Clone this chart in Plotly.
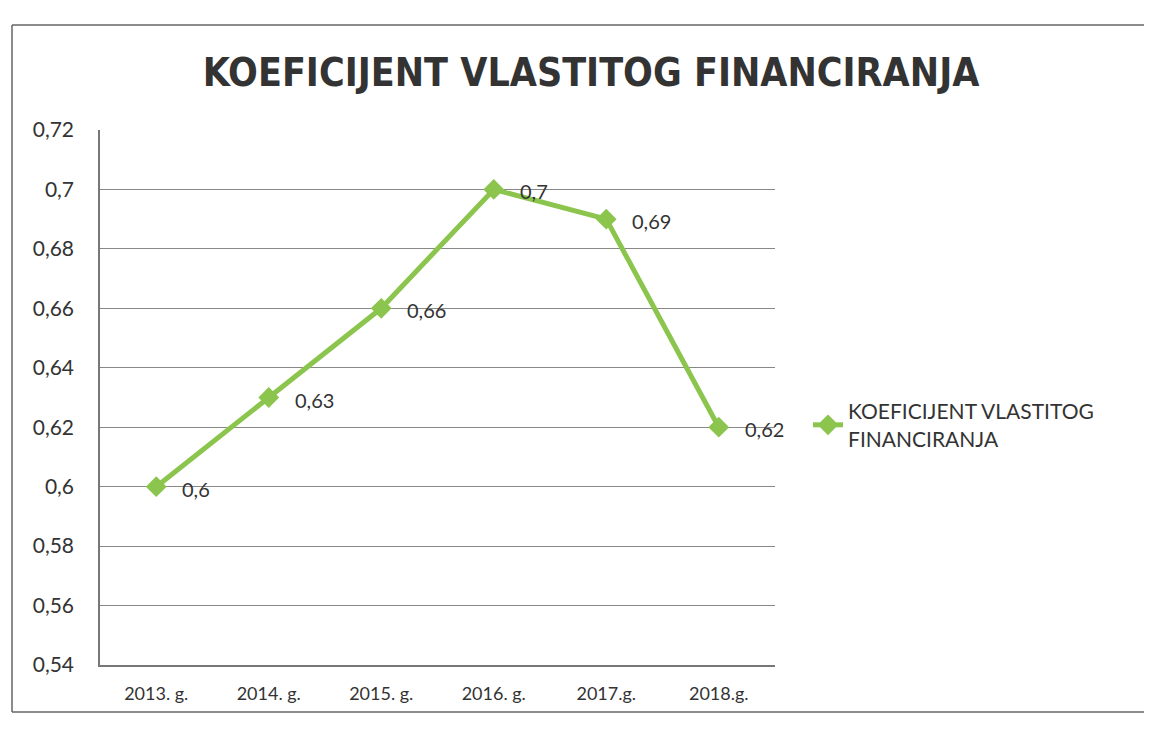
import plotly.graph_objects as go

years = ["2013. g.", "2014. g.", "2015. g.", "2016. g.", "2017.g.", "2018.g."]
values = [0.60, 0.63, 0.66, 0.70, 0.69, 0.62]
y_ticks = [0.54, 0.56, 0.58, 0.60, 0.62, 0.64, 0.66, 0.68, 0.70, 0.72]
y_ticktext = ["0,54", "0,56", "0,58", "0,6", "0,62", "0,64", "0,66", "0,68", "0,7", "0,72"]
series_name = "KOEFICIJENT VLASTITOG<br>FINANCIRANJA"
title_text = "KOEFICIJENT VLASTITOG FINANCIRANJA"

labels = [("%g" % v).replace(".", ",") for v in values]

OFF = 8  # page body margin
W, H = 1152 - OFF, 729 - OFF
# plot area in page pixels
L, R, T, B = 100, 775, 130, 665

def px(x):
    return (x - L) / (R - L)

def py(y):
    return (B - y) / (B - T)

green = "#8cc54e"
txt = "#333333"
fig = go.Figure()
fig.add_trace(go.Scatter(
    x=years, y=values, mode="lines+markers",
    name=series_name,
    line=dict(color=green, width=5),
    marker=dict(symbol="diamond", size=16, color=green),
    cliponaxis=False,
))

for yr, v, lab in zip(years, values, labels):
    fig.add_annotation(x=yr, y=v, text=lab, showarrow=False, xanchor="left", yanchor="middle",
                       xshift=24, yshift=-2, font=dict(family="Lato", size=20, color=txt))

fig.update_layout(
    width=W, height=H,
    margin=dict(l=L - OFF, r=(W + OFF) - R, t=T - OFF, b=(H + OFF) - B),
    paper_bgcolor="white", plot_bgcolor="white",
    title=dict(text=title_text, xref="container", x=(591 - OFF) / W, xanchor="center",
               yref="container", y=1 - (72 - OFF) / H, yanchor="middle",
               font=dict(family="DejaVu Sans Condensed, Roboto", size=39, color=txt, weight="bold")),
    showlegend=True,
    legend=dict(x=px(808), xanchor="left", y=py(425), yanchor="middle",
                font=dict(family="Lato", size=21, color=txt),
                bgcolor="rgba(0,0,0,0)"),
    xaxis=dict(type="category", range=[-0.5, 5.5], showgrid=False,
               showline=True, linecolor="#777777", linewidth=1.5,
               ticks="", tickfont=dict(family="Lato", size=18, color=txt),
               ticklabelstandoff=12),
    yaxis=dict(range=[0.54, 0.72], tickvals=y_ticks, ticktext=y_ticktext,
               showgrid=True, gridcolor="#888888", gridwidth=1.2,
               showline=True, linecolor="#777777", linewidth=1.5,
               ticks="", tickfont=dict(family="Lato", size=21, color=txt),
               ticklabelstandoff=20, zeroline=False),
    separators=",.",
)

# outer chart frame (scanned border)
fig.add_shape(type="line", xref="paper", yref="paper", x0=px(12), x1=px(12), y0=py(25), y1=py(712),
              line=dict(color="#666666", width=1.5))
fig.add_shape(type="line", xref="paper", yref="paper", x0=px(12), x1=px(1152), y0=py(25), y1=py(25),
              line=dict(color="#666666", width=1.5))
fig.add_shape(type="line", xref="paper", yref="paper", x0=px(12), x1=px(1152), y0=py(712), y1=py(712),
              line=dict(color="#666666", width=1.5))

fig.write_html("out.html")
